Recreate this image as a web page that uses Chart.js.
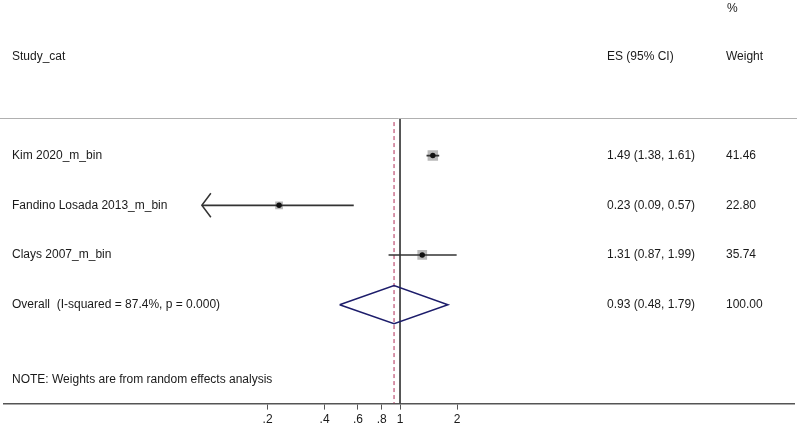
<!DOCTYPE html>
<html lang="en">
<head>
    <meta charset="UTF-8">
    <title>Forest plot</title>
    <script src="https://cdn.jsdelivr.net/npm/chart.js@4.4.1/dist/chart.umd.min.js"></script>
    <style>
        body { margin: 0; background: #fff; }
        #wrap { width: 797px; height: 430px; }
    </style>
</head>
<body>
    <div id="wrap"><canvas id="forest" width="797" height="430"></canvas></div>
    <script>
        // Study data
        const studies = ['Kim 2020_m_bin', 'Fandino Losada 2013_m_bin', 'Clays 2007_m_bin'];
        const es = [1.49, 0.23, 1.31];
        const ciLow = [1.38, 0.09, 0.87];
        const ciHigh = [1.61, 0.57, 1.99];
        const weights = [41.46, 22.80, 35.74];
        const arrowLeft = [false, true, false]; // CI runs off the left end

        const overallLabel = 'Overall  (I-squared = 87.4%, p = 0.000)';
        const overallEs = 0.93;
        const overallLow = 0.48;
        const overallHigh = 1.79;
        const overallWeight = 100.00;

        const tickValues = [0.2, 0.4, 0.6, 0.8, 1, 2];
        const tickLabels = ['.2', '.4', '.6', '.8', '1', '2'];
        const noteText = 'NOTE: Weights are from random effects analysis';

        // row layout (row 1..3 studies, row 4 overall)
        const overallRow = studies.length + 1;
        const yMin = -2.13, yMax = 5.99;
        const topRuleRow = 0.246;
        const diamondHalf = 0.383;
        const font = '12px "Liberation Sans", Arial, sans-serif';

        const fmt = v => v.toFixed(2);

        const datasets = [];

        // null line and overall dashed line
        datasets.push({
            data: [{ x: 1, y: topRuleRow }, { x: 1, y: yMax }],
            showLine: true, borderColor: '#111', borderWidth: 1.4, pointRadius: 0, order: 5
        });
        datasets.push({
            data: [{ x: overallEs, y: topRuleRow + 0.08 }, { x: overallEs, y: yMax }],
            showLine: true, borderColor: '#b02a55', borderWidth: 1, borderDash: [4, 3], pointRadius: 0, order: 4
        });

        // confidence intervals
        studies.forEach((s, i) => {
            datasets.push({
                data: [{ x: ciLow[i], y: i + 1 }, { x: ciHigh[i], y: i + 1 }],
                showLine: true, borderColor: '#333', borderWidth: 1.7, pointRadius: 0, order: 2
            });
        });

        // weight boxes
        datasets.push({
            data: es.map((v, i) => ({ x: v, y: i + 1 })),
            pointStyle: 'rect',
            pointRadius: ctx => 1.15 * Math.sqrt(weights[ctx.dataIndex]),
            backgroundColor: '#b9b9b9', borderWidth: 0, order: 3
        });

        // point estimates
        datasets.push({
            data: es.map((v, i) => ({ x: v, y: i + 1 })),
            pointRadius: 2.7, backgroundColor: '#111', borderWidth: 0, order: 0
        });

        // overall diamond
        datasets.push({
            data: [
                { x: overallLow, y: overallRow },
                { x: overallEs, y: overallRow - diamondHalf },
                { x: overallHigh, y: overallRow },
                { x: overallEs, y: overallRow + diamondHalf },
                { x: overallLow, y: overallRow }
            ],
            showLine: true, borderColor: '#1d1d6b', borderWidth: 1.5, pointRadius: 0, order: 1
        });

        // text columns, top rule and arrows
        const forestText = {
            id: 'forestText',
            afterDatasetsDraw(chart) {
                const c = chart.ctx;
                const xs = chart.scales.x, ys = chart.scales.y;
                c.save();

                // top rule
                c.strokeStyle = '#b0b0b0';
                c.lineWidth = 1;
                c.beginPath();
                const ty = Math.round(ys.getPixelForValue(topRuleRow)) + 0.5;
                c.moveTo(0, ty); c.lineTo(chart.width, ty);
                c.stroke();

                // arrow heads
                c.strokeStyle = '#333';
                c.lineWidth = 1.5;
                studies.forEach((s, i) => {
                    if (!arrowLeft[i]) return;
                    const px = xs.getPixelForValue(ciLow[i]);
                    const py = ys.getPixelForValue(i + 1);
                    c.beginPath();
                    c.moveTo(px + 9, py - 12);
                    c.lineTo(px, py);
                    c.lineTo(px + 9, py + 12);
                    c.stroke();
                });

                c.fillStyle = '#1a1a1a';
                c.font = font;
                c.textBaseline = 'middle';
                c.textAlign = 'left';

                // headers
                c.fillText('%', 727, 9);
                c.fillText('Study_cat', 12, 57);
                c.fillText('ES (95% CI)', 607, 57);
                c.fillText('Weight', 726, 57);

                studies.forEach((s, i) => {
                    const py = ys.getPixelForValue(i + 1);
                    c.fillText(s, 12, py);
                    c.fillText(fmt(es[i]) + ' (' + fmt(ciLow[i]) + ', ' + fmt(ciHigh[i]) + ')', 607, py);
                    c.fillText(fmt(weights[i]), 726, py);
                });

                const oy = ys.getPixelForValue(overallRow);
                c.fillText(overallLabel, 12, oy);
                c.fillText(fmt(overallEs) + ' (' + fmt(overallLow) + ', ' + fmt(overallHigh) + ')', 607, oy);
                c.fillText(fmt(overallWeight), 726, oy);

                c.fillText(noteText, 12, 380);
                c.restore();
            }
        };

        new Chart(document.getElementById('forest'), {
            type: 'scatter',
            data: { datasets: datasets },
            options: {
                responsive: false,
                animation: false,
                devicePixelRatio: 1,
                layout: { autoPadding: false, padding: { left: 4, right: 3, top: 0, bottom: 0 } },
                plugins: { legend: { display: false }, tooltip: { enabled: false } },
                scales: {
                    x: {
                        type: 'logarithmic',
                        min: 0.00813,
                        max: 120,
                        border: { display: true, color: '#555', width: 1.5 },
                        grid: { drawOnChartArea: false, drawTicks: true, tickLength: 6, color: '#555' },
                        afterBuildTicks: scale => {
                            scale.ticks = tickValues.map(v => ({ value: v }));
                        },
                        ticks: {
                            autoSkip: false,
                            maxRotation: 0,
                            padding: 3,
                            color: '#1a1a1a',
                            font: { family: '"Liberation Sans", Arial, sans-serif', size: 12 },
                            callback: (value, index) => tickLabels[index]
                        }
                    },
                    y: {
                        type: 'linear',
                        reverse: true,
                        display: false,
                        min: yMin,
                        max: yMax
                    }
                }
            },
            plugins: [forestText]
        });
    </script>
</body>
</html>
